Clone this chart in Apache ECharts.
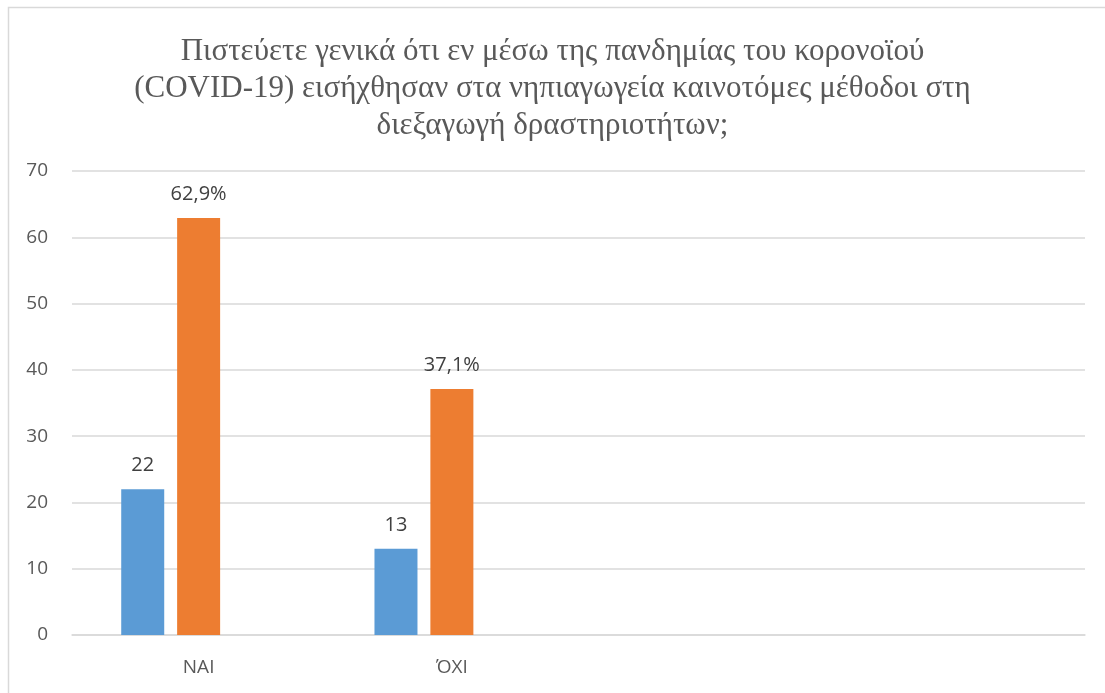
<!DOCTYPE html>
<html>
<head>
<meta charset="utf-8">
<script src="https://cdn.jsdelivr.net/npm/echarts@6/dist/echarts.min.js"></script>
<style>
html,body{margin:0;padding:0;background:#fff;}
#chart{width:1105px;height:693px;}
</style>
</head>
<body>
<div id="chart"></div>
<script>
const titleText = 'Πιστεύετε γενικά ότι εν μέσω της πανδημίας του κορονοϊού\n(COVID-19) εισήχθησαν στα νηπιαγωγεία καινοτόμες μέθοδοι στη\nδιεξαγωγή δραστηριοτήτων;';
const categories = ['ΝΑΙ', 'ΌΧΙ', '', ''];
const countValues = [22, 13, null, null];
const percentValues = [62.9, 37.1, null, null];
const emptySeriesValues = [null, null, null, null];
const yTicks = {min: 0, max: 70, interval: 10};

const chart = echarts.init(document.getElementById('chart'));
const sans = 'Open Sans, Liberation Sans, sans-serif';
const labelStyle = {
  show: true, position: 'top', distance: 14,
  color: '#404040', fontSize: 20, fontFamily: sans
};
chart.setOption({
  animation: false,
  title: {
    text: titleText, left: 'center', top: 28,
    textStyle: {fontFamily: 'Liberation Serif, Times New Roman, serif', fontSize: 31, fontWeight: 'normal', color: '#595959', lineHeight: 37}
  },
  graphic: [{
    type: 'rect', shape: {x: 8.5, y: 7.5, width: 1200, height: 800},
    style: {fill: 'none', stroke: '#d9d9d9', lineWidth: 1.5}, silent: true
  }],
  grid: {left: 72, right: 20, top: 171, bottom: 58},
  xAxis: {
    type: 'category', data: categories,
    axisLine: {lineStyle: {color: '#d9d9d9', width: 1.5}},
    axisTick: {show: false},
    axisLabel: {color: '#595959', fontSize: 19, margin: 23, fontFamily: sans}
  },
  yAxis: {
    type: 'value', min: yTicks.min, max: yTicks.max, interval: yTicks.interval,
    axisLine: {show: false}, axisTick: {show: false},
    splitLine: {lineStyle: {color: '#d9d9d9', width: 1.5}},
    axisLabel: {color: '#595959', fontSize: 19, margin: 24, fontFamily: sans}
  },
  series: [
    {type: 'bar', data: countValues, barWidth: 43, barGap: '30%', itemStyle: {color: '#5b9bd5'}, label: labelStyle},
    {type: 'bar', data: percentValues, barWidth: 43, barGap: '30%', itemStyle: {color: '#ed7d31'},
     label: Object.assign({}, labelStyle, {formatter: p => p.value.toFixed(1).replace('.', ',') + '%'})},
    {type: 'bar', data: emptySeriesValues, barWidth: 43, barGap: '30%', itemStyle: {color: '#a5a5a5'}}
  ]
});
</script>
</body>
</html>
